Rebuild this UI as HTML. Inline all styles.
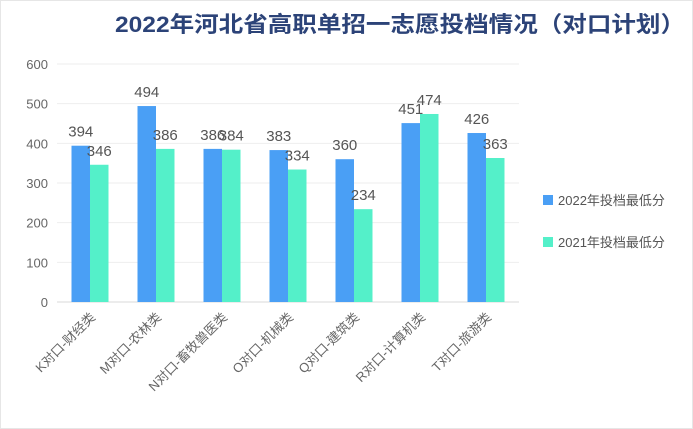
<!DOCTYPE html>
<html><head><meta charset="utf-8"><style>
html,body{margin:0;padding:0;background:#fff;}
svg{display:block;font-family:"Liberation Sans","Noto Sans CJK SC",sans-serif;}
</style></head><body>
<svg id="chart" width="693" height="429">
<rect x="0.5" y="0.5" width="692" height="428" fill="#fff" stroke="#e6e6e6"/>
<text x="685" y="32" text-anchor="end" font-size="22" font-weight="bold" fill="#2c4378" textLength="570" lengthAdjust="spacingAndGlyphs">2022年河北省高职单招一志愿投档情况（对口计划）</text>
<g id="grid"></g><g id="bars"></g><g id="labels"></g>
<g>
<rect x="543" y="195" width="10" height="10" fill="#4a9ff5"/>
<text x="558" y="205" font-size="13" fill="#555">2022年投档最低分</text>
<rect x="543" y="237" width="10" height="10" fill="#54f0c9"/>
<text x="558" y="247" font-size="13" fill="#555">2021年投档最低分</text>
</g>
</svg>
<script>
const categories=["K对口-财经类","M对口-农林类","N对口-畜牧兽医类","O对口-机械类","Q对口-建筑类","R对口-计算机类","T对口-旅游类"];
const values2022=[394,494,386,383,360,451,426];
const values2021=[346,386,384,334,234,474,363];
const yTicks=[0,100,200,300,400,500,600];
const NS="http://www.w3.org/2000/svg";
const x0=57,bandW=66,yBase=302,yTop=64,yMax=600;
const y=v=>yBase-(v/yMax)*(yBase-yTop);
const band=i=>x0+i*bandW+bandW/2;
function mk(tag,attrs,parent,txt){const e=document.createElementNS(NS,tag);for(const k in attrs)e.setAttribute(k,attrs[k]);if(txt!==undefined)e.textContent=txt;document.getElementById(parent).appendChild(e);return e;}
yTicks.forEach(t=>{
  const l=mk('line',{x1:x0,x2:x0+bandW*7,y1:y(t),y2:y(t),stroke:t===0?'#d9d9d9':'#eeeeee'},'grid');
  
  
  const tx=mk('text',{x:48,y:y(t)+5,'text-anchor':'end','font-size':13,fill:'#666'},'grid',t);
  
  
});
const bw=18.5;
categories.forEach((c,i)=>{
  const cx=band(i);
  const b1=mk('rect',{x:cx-bw,y:y(values2022[i]),width:bw,height:yBase-y(values2022[i]),fill:'#4a9ff5'},'bars');
  
  
  const b2=mk('rect',{x:cx,y:y(values2021[i]),width:bw,height:yBase-y(values2021[i]),fill:'#54f0c9'},'bars');
  
  
  const l1=mk('text',{x:cx-bw/2,y:y(values2022[i])-9,'text-anchor':'middle','font-size':15,fill:'#555'},'labels',values2022[i]);
  
  
  const l2=mk('text',{x:cx+bw/2,y:y(values2021[i])-9,'text-anchor':'middle','font-size':15,fill:'#555'},'labels',values2021[i]);
  
  
  const cl=mk('text',{x:cx+6,y:yBase+16,'text-anchor':'end','font-size':13,fill:'#666',transform:`rotate(-45 ${cx+6} ${yBase+16})`},'labels',c);
  
  
});
</script>
</body></html>
